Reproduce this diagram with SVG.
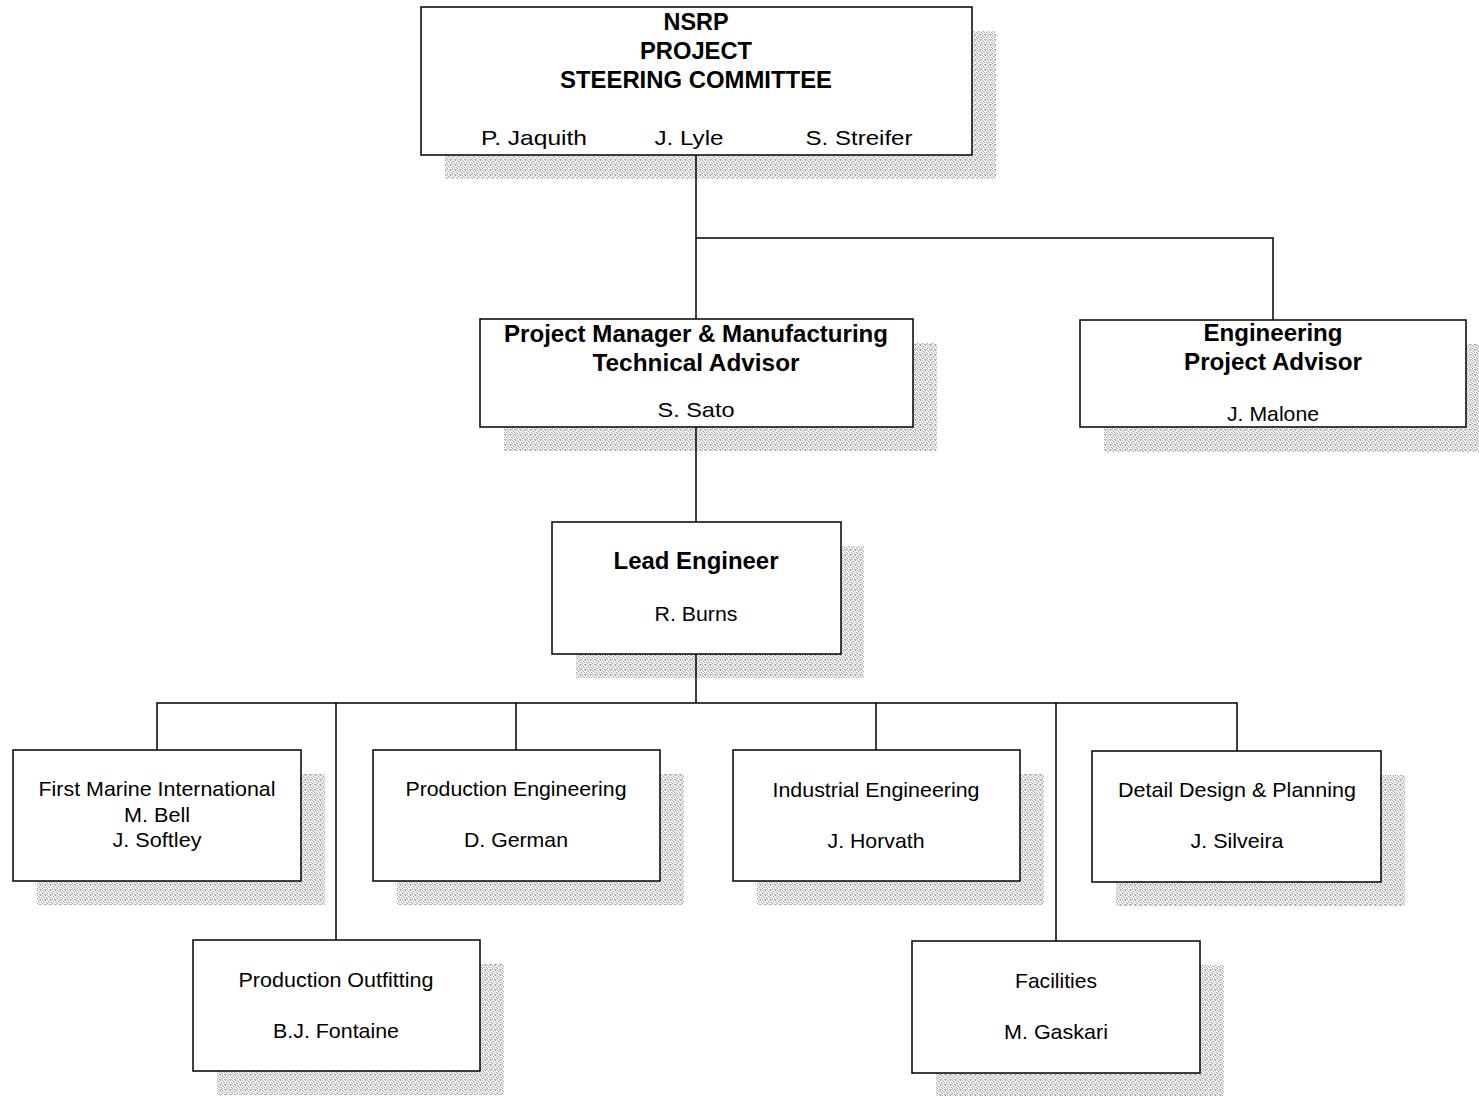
<svg xmlns="http://www.w3.org/2000/svg" width="1479" height="1096" viewBox="0 0 1479 1096">
<defs>
<pattern id="stip" width="5" height="5" patternUnits="userSpaceOnUse">
<rect width="5" height="5" fill="#f4f4f4"/>
<rect x="0" y="0" width="1" height="1" fill="#999"/>
<rect x="2" y="0" width="1" height="1" fill="#bbb"/>
<rect x="3" y="1" width="1" height="1" fill="#a0a0a0"/>
<rect x="1" y="2" width="1" height="1" fill="#aaa"/>
<rect x="4" y="2" width="1" height="1" fill="#b5b5b5"/>
<rect x="2" y="3" width="1" height="1" fill="#9e9e9e"/>
<rect x="0" y="4" width="1" height="1" fill="#b0b0b0"/>
<rect x="4" y="4" width="1" height="1" fill="#a8a8a8"/>
<rect x="1" y="4" width="1" height="1" fill="#c8c8c8"/>
</pattern>
</defs>
<style>
.sh{fill:url(#stip);stroke:none}
.bx{fill:#ffffff;stroke:#000000;stroke-width:1.5}
.b{font-family:"Liberation Sans",Arial,sans-serif;font-weight:bold;font-size:23px;fill:#000;text-anchor:middle}
.r{font-family:"Liberation Sans",Arial,sans-serif;font-size:21px;fill:#000;text-anchor:middle}
.ln{fill:none;stroke:#000000;stroke-width:1.5}
</style>
<rect width="1479" height="1096" fill="#ffffff"/>

<g id="steering">
<rect class="sh" x="445" y="31" width="551" height="148"/>
<rect class="bx" x="421" y="7" width="551" height="148"/>
<text class="b" x="696" y="30" textLength="65" lengthAdjust="spacingAndGlyphs">NSRP</text>
<text class="b" x="696" y="59" textLength="112" lengthAdjust="spacingAndGlyphs">PROJECT</text>
<text class="b" x="696" y="88" textLength="272" lengthAdjust="spacingAndGlyphs">STEERING COMMITTEE</text>
<text class="r" x="534" y="145" textLength="106" lengthAdjust="spacingAndGlyphs">P. Jaquith</text>
<text class="r" x="689" y="145" textLength="69" lengthAdjust="spacingAndGlyphs">J. Lyle</text>
<text class="r" x="859" y="145" textLength="107" lengthAdjust="spacingAndGlyphs">S. Streifer</text>
</g>

<g id="pm">
<rect class="sh" x="504" y="343" width="433" height="108"/>
<rect class="bx" x="480" y="319" width="433" height="108"/>
<text class="b" x="696" y="342" textLength="384" lengthAdjust="spacingAndGlyphs">Project Manager &amp; Manufacturing</text>
<text class="b" x="696" y="371" textLength="207" lengthAdjust="spacingAndGlyphs">Technical Advisor</text>
<text class="r" x="696" y="417" textLength="77" lengthAdjust="spacingAndGlyphs">S. Sato</text>
</g>

<g id="eng">
<rect class="sh" x="1104" y="344" width="375" height="108"/>
<rect class="bx" x="1080" y="320" width="386" height="107"/>
<text class="b" x="1273" y="341" textLength="139" lengthAdjust="spacingAndGlyphs">Engineering</text>
<text class="b" x="1273" y="370" textLength="178" lengthAdjust="spacingAndGlyphs">Project Advisor</text>
<text class="r" x="1273" y="421" textLength="92" lengthAdjust="spacingAndGlyphs">J. Malone</text>
</g>

<g id="lead">
<rect class="sh" x="576" y="546" width="288" height="132"/>
<rect class="bx" x="552" y="522" width="289" height="132"/>
<text class="b" x="696" y="569" textLength="165" lengthAdjust="spacingAndGlyphs">Lead Engineer</text>
<text class="r" x="696" y="621" textLength="83" lengthAdjust="spacingAndGlyphs">R. Burns</text>
</g>

<g id="fmi">
<rect class="sh" x="37" y="774" width="288" height="131"/>
<rect class="bx" x="13" y="750" width="288" height="131"/>
<text class="r" x="157" y="796" textLength="237" lengthAdjust="spacingAndGlyphs">First Marine International</text>
<text class="r" x="157" y="822" textLength="66" lengthAdjust="spacingAndGlyphs">M. Bell</text>
<text class="r" x="157" y="847" textLength="89" lengthAdjust="spacingAndGlyphs">J. Softley</text>
</g>

<g id="prodeng">
<rect class="sh" x="397" y="774" width="287" height="131"/>
<rect class="bx" x="373" y="750" width="287" height="131"/>
<text class="r" x="516" y="796" textLength="221" lengthAdjust="spacingAndGlyphs">Production Engineering</text>
<text class="r" x="516" y="847" textLength="104" lengthAdjust="spacingAndGlyphs">D. German</text>
</g>

<g id="indeng">
<rect class="sh" x="757" y="774" width="287" height="131"/>
<rect class="bx" x="733" y="750" width="287" height="131"/>
<text class="r" x="876" y="797" textLength="207" lengthAdjust="spacingAndGlyphs">Industrial Engineering</text>
<text class="r" x="876" y="848" textLength="97" lengthAdjust="spacingAndGlyphs">J. Horvath</text>
</g>

<g id="detail">
<rect class="sh" x="1116" y="775" width="289" height="131"/>
<rect class="bx" x="1092" y="751" width="289" height="131"/>
<text class="r" x="1237" y="797" textLength="238" lengthAdjust="spacingAndGlyphs">Detail Design &amp; Planning</text>
<text class="r" x="1237" y="848" textLength="93" lengthAdjust="spacingAndGlyphs">J. Silveira</text>
</g>

<g id="outfit">
<rect class="sh" x="217" y="964" width="287" height="131"/>
<rect class="bx" x="193" y="940" width="287" height="131"/>
<text class="r" x="336" y="987" textLength="195" lengthAdjust="spacingAndGlyphs">Production Outfitting</text>
<text class="r" x="336" y="1038" textLength="126" lengthAdjust="spacingAndGlyphs">B.J. Fontaine</text>
</g>

<g id="facilities">
<rect class="sh" x="936" y="965" width="288" height="131"/>
<rect class="bx" x="912" y="941" width="288" height="132"/>
<text class="r" x="1056" y="988" textLength="82" lengthAdjust="spacingAndGlyphs">Facilities</text>
<text class="r" x="1056" y="1039" textLength="104" lengthAdjust="spacingAndGlyphs">M. Gaskari</text>
</g>

<g id="connectors">
<path class="ln" d="M696 155 V319"/>
<path class="ln" d="M696 238 H1273 V320"/>
<path class="ln" d="M696 427 V522"/>
<path class="ln" d="M696 654 V703"/>
<path class="ln" d="M157 750 V703 H1237 V751"/>
<path class="ln" d="M336 703 V940"/>
<path class="ln" d="M516 703 V750"/>
<path class="ln" d="M876 703 V750"/>
<path class="ln" d="M1056 703 V941"/>
</g>
</svg>
